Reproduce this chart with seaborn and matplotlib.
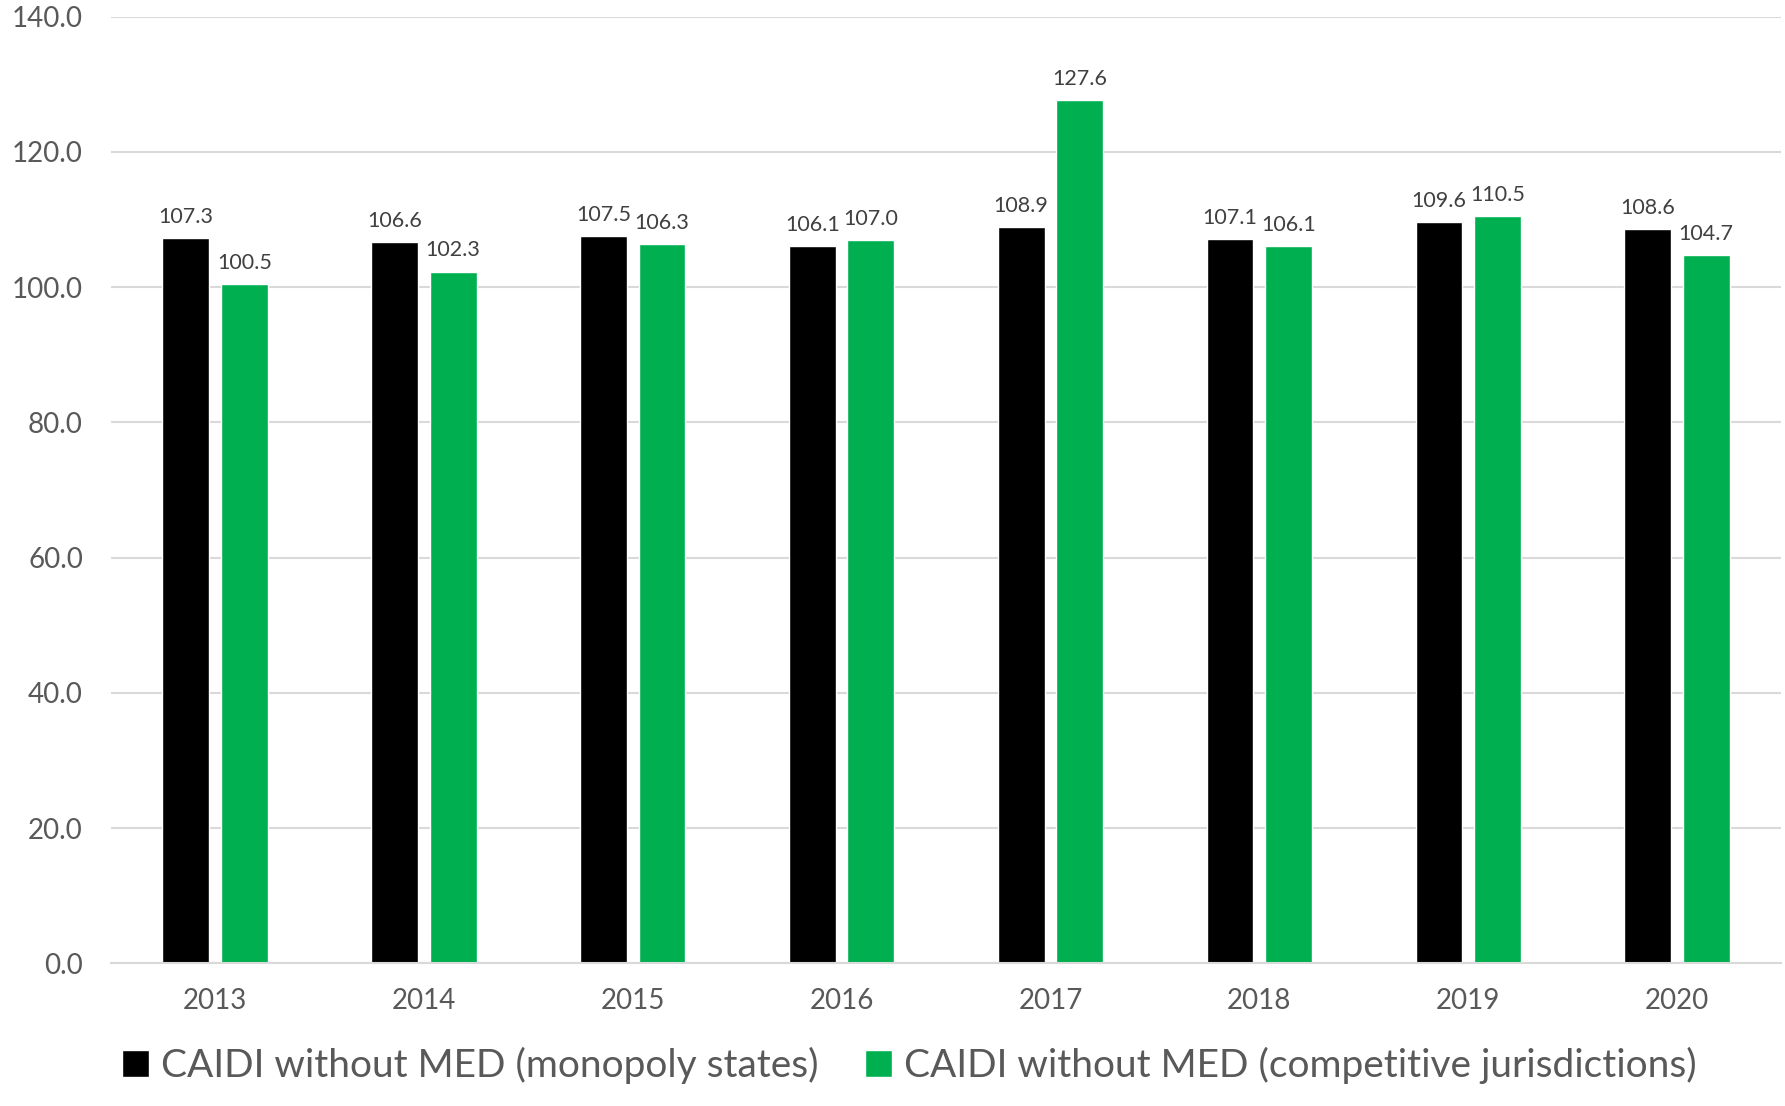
import numpy as np
import pandas as pd
import matplotlib
matplotlib.use("Agg")
import matplotlib.pyplot as plt
import seaborn as sns

# Values
years = ["2013", "2014", "2015", "2016", "2017", "2018", "2019", "2020"]
monopoly = [107.3, 106.6, 107.5, 106.1, 108.9, 107.1, 109.6, 108.6]
competitive = [100.5, 102.3, 106.3, 107.0, 127.6, 106.1, 110.5, 104.7]
series_names = ["CAIDI without MED (monopoly states)",
                "CAIDI without MED (competitive jurisdictions)"]
colors = ["#000000", "#00B050"]
y_ticks = [0, 20, 40, 60, 80, 100, 120, 140]

df = pd.DataFrame({
    "year": years * 2,
    "value": monopoly + competitive,
    "series": [series_names[0]] * len(years) + [series_names[1]] * len(years),
})

sns.set_style("white")
plt.rcParams["font.family"] = ["Lato", "DejaVu Sans"]

fig = plt.figure(figsize=(17.85, 11.06), dpi=100)
ax = fig.add_axes([0.062, 0.129, 0.936, 0.856])

sns.barplot(data=df, x="year", y="value", hue="series", palette=colors,
            saturation=1, width=0.56, gap=0.2, ax=ax, legend=True,
            errorbar=None)

for c in ax.containers:
    ax.bar_label(c, fmt="%.1f", padding=8, fontsize=15.5, color="#404040")

ax.set_xlim(-0.5, 7.5)
ax.set_ylim(0, 140)
ax.set_yticks(y_ticks)
ax.set_yticklabels([f"{v:.1f}" for v in y_ticks])
ax.yaxis.grid(True, color="#d9d9d9", linewidth=1.5)
ax.set_axisbelow(True)
for s in ["top", "right", "left"]:
    ax.spines[s].set_visible(False)
ax.spines["bottom"].set_color("#d9d9d9")
ax.spines["bottom"].set_linewidth(1.5)
ax.tick_params(axis="y", length=0, pad=20, labelsize=20, labelcolor="#595959")
ax.tick_params(axis="x", length=0, pad=18, labelsize=20, labelcolor="#595959")
ax.set_xlabel("")
ax.set_ylabel("")

handles, labels = ax.get_legend_handles_labels()
ax.legend(handles, labels, loc="center", bbox_to_anchor=(0.478, -0.108),
          ncol=2, frameon=False, fontsize=28, labelcolor="#595959",
          handlelength=0.7, handleheight=0.7, handletextpad=0.3,
          columnspacing=1.2)

fig.savefig("out.png", dpi=100)
